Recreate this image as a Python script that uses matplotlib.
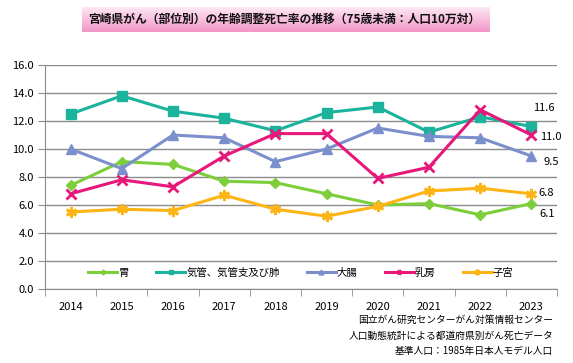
import numpy as np, matplotlib
matplotlib.use("Agg"); import matplotlib.pyplot as plt
plt.rcParams['font.family'] = ['Noto Sans CJK JP', 'DejaVu Sans']

years = ["2014","2015","2016","2017","2018","2019","2020","2021","2022","2023"]
stomach = [7.4, 9.1, 8.9, 7.7, 7.6, 6.8, 6.0, 6.1, 5.3, 6.1]
lung    = [12.5, 13.8, 12.7, 12.2, 11.3, 12.6, 13.0, 11.2, 12.3, 11.6]
colon   = [10.0, 8.6, 11.0, 10.8, 9.1, 10.0, 11.5, 10.9, 10.8, 9.5]
breast  = [6.8, 7.8, 7.3, 9.5, 11.1, 11.1, 7.9, 8.7, 12.8, 11.0]
uterus  = [5.5, 5.7, 5.6, 6.7, 5.7, 5.2, 5.9, 7.0, 7.2, 6.8]
names = ["胃", "気管、気管支及び肺", "大腸", "乳房", "子宮"]

W, H = 573, 363
fig = plt.figure(figsize=(W/100, H/100), dpi=100)

# title band with pink gradient
tax = fig.add_axes([82/W, 1-32/H, 408/W, 25/H]); tax.axis("off")
t = np.linspace(0, 1, 50)
top = np.array([253, 232, 243]); bot = np.array([243, 150, 200])
g = (top*(1-t[:, None]) + bot*t[:, None])/255
tax.imshow(g[:, None, :].repeat(10, axis=1), aspect="auto", extent=[0, 1, 0, 1])
tax.set_xlim(0, 1); tax.set_ylim(0, 1)
tax.text(0.495, 0.5, "宮崎県がん（部位別）の年齢調整死亡率の推移（75歳未満：人口10万対）",
         ha="center", va="center", fontsize=8.5, fontweight="bold", color="#111")

ax = fig.add_axes([45/W, 1-289/H, 512/W, 224/H])
x = np.arange(len(years))
gc = "#8c8c8c"
styles = [
    (stomach, "#7ccf3a", "D", 5, None),
    (lung,    "#1cb39c", "s", 7, None),
    (colon,   "#7b8fcc", "^", 7, None),
    (breast,  "#e8177a", "x", 7, 2),
    (uterus,  "#fdb515", (6, 2, 0), 8, 2),
]
for (vals, c, m, ms, mew), nm in zip(styles, names):
    ax.plot(x, vals, color=c, lw=2.2, marker=m, ms=ms, mew=mew if mew else 1,
            mec=c, mfc=c, label=nm, zorder=3)

ax.set_xlim(-0.5, 9.5); ax.set_ylim(0, 16)
ax.set_yticks(np.arange(0, 16.1, 2))
ax.set_yticklabels([f"{v:.1f}" for v in np.arange(0, 16.1, 2)], fontsize=8)
ax.set_xticks(x); ax.set_xticklabels(years, fontsize=8)
ax.set_xticks(np.arange(-0.5, 10, 1), minor=True)
ax.tick_params(axis="x", which="major", length=0, pad=9)
ax.tick_params(axis="x", which="minor", length=5, color=gc)
ax.tick_params(axis="y", length=5, color=gc, pad=3)
ax.grid(axis="y", color=gc, lw=1, zorder=0)
for s in ["top", "right"]: ax.spines[s].set_visible(False)
for s in ["left", "bottom"]: ax.spines[s].set_color(gc)

# labels for last year (offsets in points)
offs = [(lung, (1.5, 13.5)), (breast, (6.5, -1.4)), (colon, (8.6, -4.3)),
        (uterus, (5, 0.5)), (stomach, (5.8, -7.2))]
for vals, (dx, dy) in offs:
    ax.annotate(f"{vals[-1]:.1f}", (x[-1], vals[-1]), xytext=(dx, dy), textcoords="offset points",
                ha="left", va="center", fontsize=8)

leg = ax.legend(loc="center", bbox_to_anchor=(0.5, 0.072), ncol=5, frameon=False, fontsize=7.5,
                handlelength=2.8, columnspacing=2.6, handletextpad=0.1, markerscale=0.5)

for i, ln in enumerate(["国立がん研究センターがん対策情報センター",
                        "人口動態統計による都道府県別がん死亡データ",
                        "基準人口：1985年日本人モデル人口"]):
    fig.text(553/W, 1-(320+15.5*i)/H, ln, ha="right", va="center", fontsize=7)

fig.savefig("out.png", dpi=100)
